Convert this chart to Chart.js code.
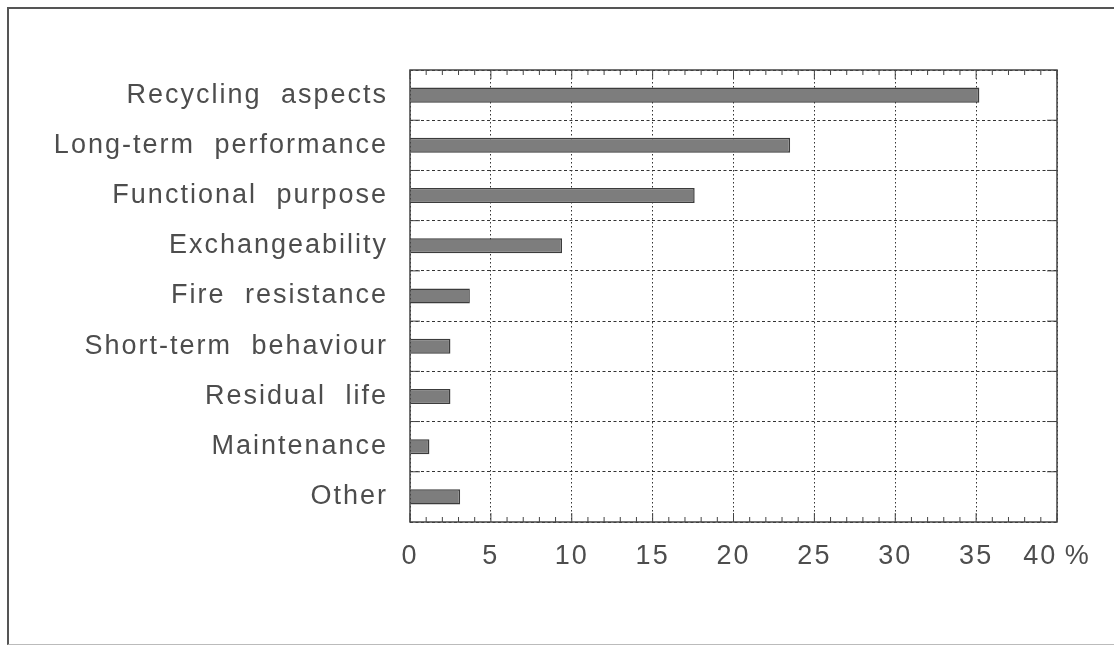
<!DOCTYPE html>
<html>
<head>
<meta charset="utf-8">
<script src="https://cdn.jsdelivr.net/npm/chart.js@4.4.1/dist/chart.umd.min.js"></script>
<style>
  html, body { margin: 0; padding: 0; background: #fff; overflow: hidden; }
  #frame {
    position: absolute; left: 7px; top: 7px; width: 1107px; height: 638px;
    border-left: 2px solid #555; border-top: 2px solid #555; border-bottom: 1px solid #bbb;
    box-sizing: border-box;
  }
  #chart { position: absolute; left: 0; top: 0; }
</style>
</head>
<body>
<div id="frame"></div>
<canvas id="chart" width="1114" height="647"></canvas>
<script>
const categories = [
  'Recycling aspects',
  'Long-term performance',
  'Functional purpose',
  'Exchangeability',
  'Fire resistance',
  'Short-term behaviour',
  'Residual life',
  'Maintenance',
  'Other'
];
const shares = [35.2, 23.5, 17.6, 9.4, 3.7, 2.5, 2.5, 1.2, 3.1];
const xTicks = [0, 5, 10, 15, 20, 25, 30, 35, 40];

const ink = '#4d4d4d';

// wide letter/word spacing like the old typewriter-ish labels
function setSpacing(chart) {
  chart.ctx.letterSpacing = '2px';
  chart.ctx.wordSpacing = '10px';
}
const spacing = {
  id: 'spacing',
  beforeLayout: setSpacing,
  beforeDraw: setSpacing
};

// frame around the plot plus inward ticks
const frameTicks = {
  id: 'frameTicks',
  afterDraw(chart) {
    const { ctx, chartArea: a } = chart;
    const xs = chart.scales.x, ys = chart.scales.y;
    ctx.save();
    ctx.strokeStyle = '#444';
    ctx.lineWidth = 1.5;
    ctx.setLineDash([]);
    ctx.strokeRect(a.left, a.top, a.right - a.left, a.bottom - a.top);
    ctx.lineWidth = 1;
    ctx.beginPath();
    for (let v = xTicks[0]; v <= xTicks[xTicks.length - 1]; v++) {
      const px = xs.getPixelForValue(v);
      const len = v % 5 === 0 ? 9 : 5;
      ctx.moveTo(px, a.top); ctx.lineTo(px, a.top + len);
      ctx.moveTo(px, a.bottom); ctx.lineTo(px, a.bottom - len);
    }
    for (let i = 1; i < categories.length; i++) {
      const py = (ys.getPixelForValue(i - 1) + ys.getPixelForValue(i)) / 2;
      ctx.moveTo(a.left, py); ctx.lineTo(a.left + 10, py);
      ctx.moveTo(a.right, py); ctx.lineTo(a.right - 10, py);
    }
    ctx.stroke();
    ctx.restore();
  }
};

new Chart(document.getElementById('chart'), {
  type: 'bar',
  data: {
    labels: categories,
    datasets: [{
      data: shares,
      backgroundColor: '#7d7d7d',
      borderColor: '#3c3c3c',
      borderWidth: 1.5,
      barPercentage: 0.3,
      categoryPercentage: 1
    }]
  },
  options: {
    indexAxis: 'y',
    responsive: false,
    animation: false,
    layout: { padding: { left: 0, top: 70, right: 57, bottom: 0 } },
    plugins: { legend: { display: false }, tooltip: { enabled: false } },
    scales: {
      x: {
        min: 0, max: 40,
        afterBuildTicks(scale) { scale.ticks = xTicks.map(v => ({ value: v })); },
        afterFit(scale) { scale.height = 125; },
        border: { display: false, dash: [1.5, 2.5] },
        grid: { color: '#333', lineWidth: 1, drawTicks: false },
        ticks: {
          padding: 18,
          color: ink,
          font: { family: 'Liberation Sans', size: 27 },
          callback: v => v === 40 ? '40\u2009%' : v
        }
      },
      y: {
        afterFit(scale) { scale.width = 410; },
        border: { display: false, dash: [3, 2.5] },
        grid: { color: '#333', lineWidth: 1, drawTicks: false, offset: true },
        ticks: {
          padding: 22,
          color: ink,
          font: { family: 'Liberation Sans', size: 27 }
        }
      }
    }
  },
  plugins: [spacing, frameTicks]
});
</script>
</body>
</html>
